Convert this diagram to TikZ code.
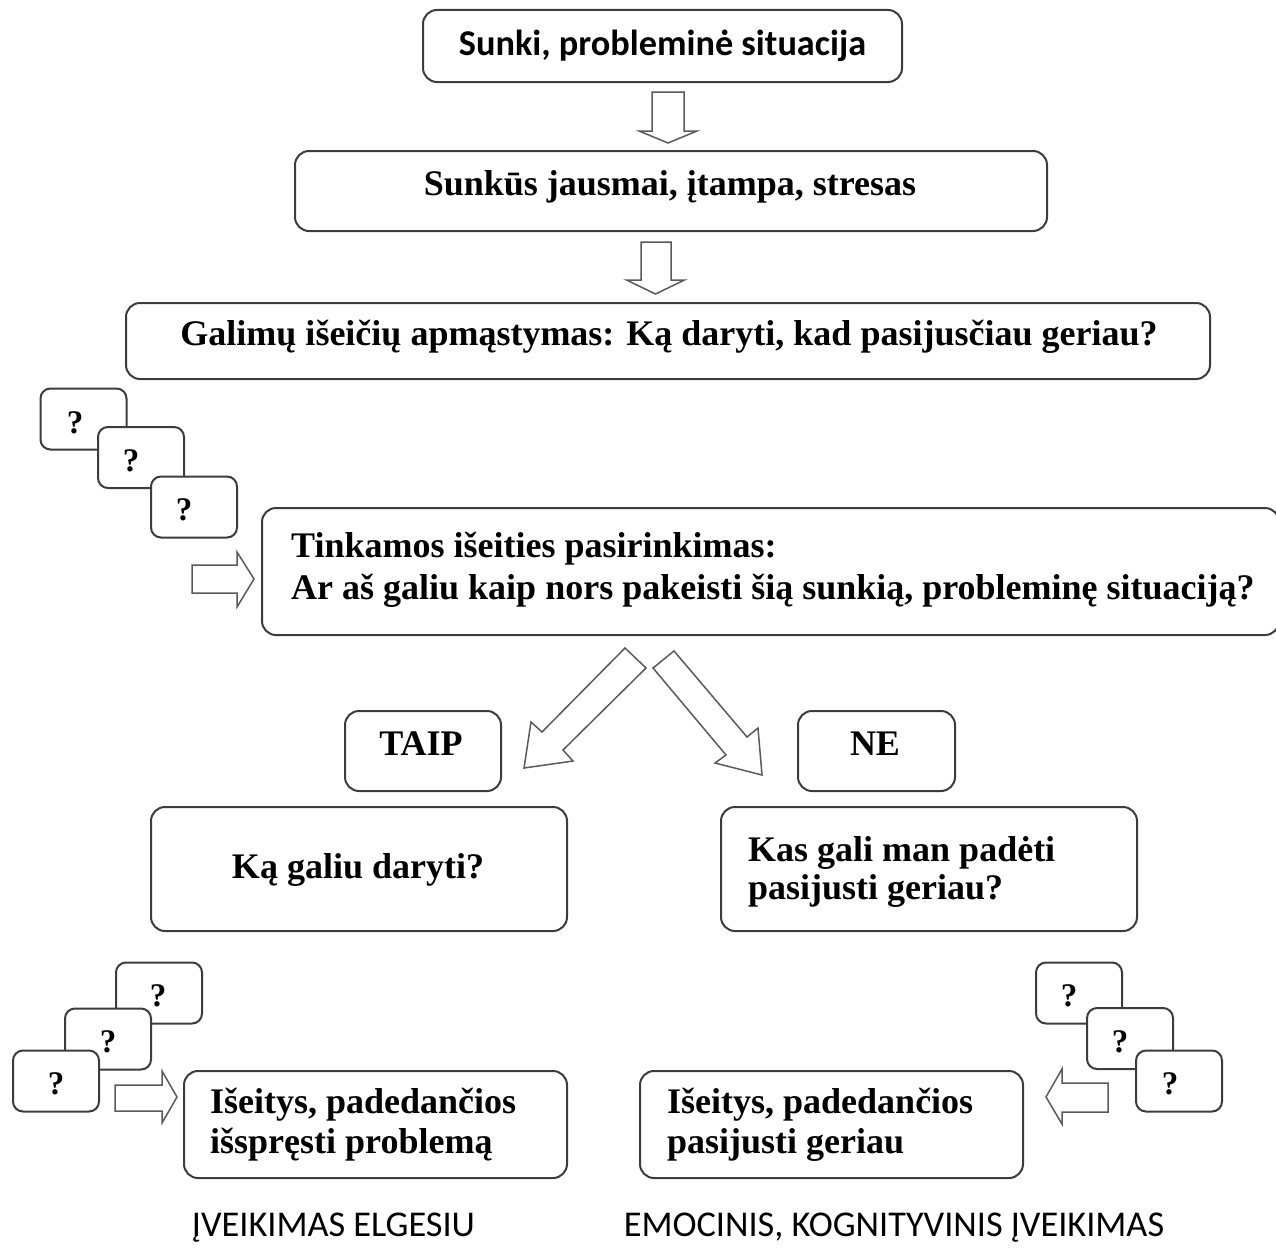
\documentclass[tikz,border=0pt]{standalone}
\usepackage{fontspec}
\setmainfont{Liberation Serif}
\newfontfamily\calfont{Carlito}
\definecolor{boxline}{HTML}{3C3C3C}
\definecolor{arrline}{HTML}{5A5A5A}
\tikzset{
  box/.style={draw=boxline, line width=2pt, rounded corners=14pt, fill=white, inner sep=0pt},
  qbox/.style={box, rounded corners=10pt, minimum width=86pt, minimum height=61pt},
  qmark/.style={font=\fontsize{33}{38}\selectfont\bfseries, inner sep=0pt},
  sertext/.style={font=\fontsize{36}{40}\selectfont\bfseries, inner sep=0pt},
  caltext/.style={font=\fontsize{36.3}{42}\selectfont\calfont, inner sep=0pt},
  blockarrow/.style={draw=arrline, line width=1.5pt, fill=white, line join=miter}
}
\begin{document}
\begin{tikzpicture}[x=1pt,y=-1pt]
\clip (0,0) rectangle (1276,1247);
\fill[white] (0,0) rectangle (1276,1247);

% main chain
\node[box, minimum width=479pt, minimum height=72pt,
  font=\fontsize{36.3}{40}\selectfont\calfont\bfseries] (sit) at (662.5,46) {Sunki, probleminė situacija};
\node[box, minimum width=752pt, minimum height=80pt, sertext] (feel) at (671,191) {};
\node[sertext] (feeltxt) at (670,187) {Sunkūs jausmai, įtampa, stresas};
\node[box, minimum width=1084pt, minimum height=76pt] (think) at (668,341) {};
\node[sertext] (thinktxt) at (669,337) {Galimų išeičių apmąstymas: Ką daryti, kad pasijusčiau geriau?};

% arrows down
\draw[blockarrow] (652,92) -- (684,92) -- (684,131) -- (697,131) -- (668,143) -- (639,131) -- (652,131) -- cycle;
\draw[blockarrow] (641,242) -- (671,242) -- (671,280) -- (684.5,280) -- (655.5,294) -- (626.5,280) -- (641,280) -- cycle;

% question boxes top-left
\node[qbox] (qa1) at (83.5,419) {};
\node[qmark] at (75,423) {?};
\node[qbox] (qa2) at (141,457.5) {};
\node[qmark] at (131,461) {?};
\node[qbox] (qa3) at (194,507) {};
\node[qmark] at (184,510) {?};
\draw[blockarrow] (192,565) -- (237,565) -- (237,552) -- (254,579) -- (237,607) -- (237,593) -- (192,593) -- cycle;

% choice box
\node[box, minimum width=1017pt, minimum height=127pt] (choose) at (770.5,571.5) {};
\node[sertext, anchor=west, align=left, font=\fontsize{36}{42}\selectfont\bfseries] (choosetxt) at ([xshift=30pt,yshift=2pt]choose.west)
  {Tinkamos išeities pasirinkimas:\\Ar aš galiu kaip nors pakeisti šią sunkią, probleminę situaciją?};

% diagonal arrows
\draw[blockarrow] (625,648) -- (646,668) -- (563,750) -- (573,761) -- (524,768) -- (531,722) -- (542,732) -- cycle;
\draw[blockarrow] (653,668) -- (674,651) -- (747,737) -- (758,728) -- (762,775) -- (715,763) -- (726,755) -- cycle;

% TAIP / NE
\node[box, minimum width=156pt, minimum height=80pt] (yes) at (423,751) {};
\node[sertext] (yestxt) at (421,744) {TAIP};
\node[box, minimum width=157pt, minimum height=80pt] (no) at (876.5,751) {};
\node[sertext] (notxt) at (875,744) {NE};

\node[box, minimum width=416pt, minimum height=124pt] (cando) at (359,869) {};
\node[sertext] (candotxt) at (358,870) {Ką galiu daryti?};
\node[box, minimum width=416pt, minimum height=124pt] (help) at (929,869) {};
\node[sertext, anchor=west, align=left, font=\fontsize{36}{38}\selectfont\bfseries] (helptxt) at ([xshift=28pt,yshift=-3pt]help.west)
  {Kas gali man padėti\\pasijusti geriau?};

% bottom-left question boxes
\node[qbox] (qb1) at (159,993) {};
\node[qmark] at (158,996) {?};
\node[qbox] (qb2) at (108,1039) {};
\node[qmark] at (108,1042) {?};
\node[qbox] (qb3) at (56,1081) {};
\node[qmark] at (56,1084) {?};
\draw[blockarrow] (115,1085) -- (162,1085) -- (162,1071) -- (177,1097) -- (162,1123) -- (162,1111) -- (115,1111) -- cycle;

% bottom-right question boxes
\node[qbox] (qc1) at (1079,993) {};
\node[qmark] at (1069,996) {?};
\node[qbox] (qc2) at (1130,1038.5) {};
\node[qmark] at (1120,1042) {?};
\node[qbox] (qc3) at (1179,1081) {};
\node[qmark] at (1170,1084) {?};
\draw[blockarrow] (1108,1083) -- (1062,1083) -- (1062,1069) -- (1046,1097) -- (1062,1124) -- (1062,1112) -- (1108,1112) -- cycle;

% bottom boxes
\node[box, minimum width=383pt, minimum height=107pt] (solve) at (375.5,1124.5) {};
\node[sertext, anchor=west, align=left] (solvetxt) at ([xshift=27pt]solve.west)
  {Išeitys, padedančios\\išspręsti problemą};
\node[box, minimum width=383pt, minimum height=107pt] (better) at (831.5,1124.5) {};
\node[sertext, anchor=west, align=left] (bettertxt) at ([xshift=28pt]better.west)
  {Išeitys, padedančios\\pasijusti geriau};

% captions
\node[caltext] (cap1) at (333.5,1228) {ĮVEIKIMAS ELGESIU};
\node[caltext] (cap2) at (894,1228) {EMOCINIS, KOGNITYVINIS ĮVEIKIMAS};
\end{tikzpicture}
\end{document}
